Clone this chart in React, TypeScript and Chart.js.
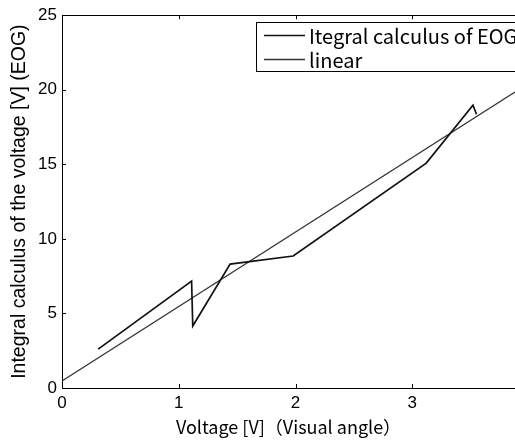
import React, { useEffect, useRef } from "react";
import { Chart, registerables } from "chart.js";

Chart.register(...registerables);

const eogX = [0.31, 1.11, 1.12, 1.44, 1.98, 3.12, 3.52, 3.55];
const eogY = [2.61, 7.17, 4.16, 8.31, 8.85, 15.08, 18.97, 18.36];
const linearX = [0, 3.88];
const linearY = [0.47, 19.85];
const xTicks = [0, 1, 2, 3];
const yTicks = [0, 5, 10, 15, 20, 25];
const seriesLabels = ["Itegral calculus of EOG", "linear"];
const xTitle = "Voltage [V]（Visual angle）";
const yTitle = "Integral calculus of the voltage [V] (EOG)";

const SANS = 'Arial, "Liberation Sans", Helvetica, sans-serif';
const GOTHIC = '"Noto Sans CJK JP", sans-serif';

const frameAndLegend = {
  id: "frameAndLegend",
  afterDatasetsDraw(chart: any) {
    const ctx = chart.ctx;
    const { left, right, top, bottom } = chart.chartArea;
    const xs = chart.scales.x;
    const ys = chart.scales.y;
    ctx.save();
    ctx.strokeStyle = "#000";
    ctx.lineWidth = 1;
    ctx.beginPath();
    ctx.moveTo(left, Math.round(top) + 0.5);
    ctx.lineTo(right, Math.round(top) + 0.5);
    ctx.stroke();
    ctx.beginPath();
    for (const v of xTicks) {
      const px = Math.round(xs.getPixelForValue(v)) + 0.5;
      ctx.moveTo(px, bottom);
      ctx.lineTo(px, bottom - 4);
      ctx.moveTo(px, top);
      ctx.lineTo(px, top + 4);
    }
    for (const v of yTicks) {
      const py = Math.round(ys.getPixelForValue(v)) + 0.5;
      ctx.moveTo(left, py);
      ctx.lineTo(left + 4, py);
    }
    ctx.stroke();
    ctx.fillStyle = "#fff";
    ctx.fillRect(256.5, 22.5, 270, 49);
    ctx.strokeRect(256.5, 22.5, 270, 49);
    const ds = chart.data.datasets;
    const rows = [35, 59];
    ctx.font = "20px " + GOTHIC;
    ctx.textBaseline = "middle";
    ctx.textAlign = "left";
    ds.forEach((d: any, i: number) => {
      ctx.beginPath();
      ctx.strokeStyle = d.borderColor;
      ctx.lineWidth = d.borderWidth;
      ctx.moveTo(264, rows[i] + 0.5);
      ctx.lineTo(305, rows[i] + 0.5);
      ctx.stroke();
      ctx.fillStyle = "#000";
      ctx.fillText(d.label, 309, rows[i] + 1);
    });
    ctx.restore();
  },
};

export default function App() {
  const ref = useRef<HTMLCanvasElement>(null);
  useEffect(() => {
    document.body.style.margin = "0";
    const eogData = eogX.map((x, i) => ({ x, y: eogY[i] }));
    const linData = linearX.map((x, i) => ({ x, y: linearY[i] }));
    const chart = new Chart(ref.current as HTMLCanvasElement, {
      type: "scatter",
      data: {
        datasets: [
          {
            label: seriesLabels[0],
            data: eogData,
            showLine: true,
            borderColor: "#111",
            borderWidth: 1.7,
            pointRadius: 0,
            fill: false,
          },
          {
            label: seriesLabels[1],
            data: linData,
            showLine: true,
            borderColor: "#333",
            borderWidth: 1.3,
            pointRadius: 0,
            fill: false,
          },
        ],
      },
      options: {
        animation: false,
        responsive: false,
        layout: { padding: { top: 15, right: 0, left: 0, bottom: 0 } },
        plugins: { legend: { display: false }, tooltip: { enabled: false } },
        scales: {
          x: {
            type: "linear",
            min: 0,
            max: 3.88,
            afterBuildTicks: (s: any) => {
              s.ticks = xTicks.map((v) => ({ value: v }));
            },
            afterFit: (s: any) => {
              s.height = 52;
            },
            grid: { display: false, drawTicks: false },
            border: { display: true, color: "#000", width: 1 },
            ticks: {
              color: "#000",
              padding: 5,
              font: { family: SANS, size: 17 },
              maxRotation: 0,
            },
            title: {
              display: true,
              text: xTitle,
              color: "#000",
              font: { family: GOTHIC, size: 18 },
              padding: { top: 0, bottom: 2 },
            },
          },
          y: {
            type: "linear",
            min: 0,
            max: 25,
            afterBuildTicks: (s: any) => {
              s.ticks = yTicks.map((v) => ({ value: v }));
            },
            afterFit: (s: any) => {
              s.width = 62;
            },
            grid: { display: false, drawTicks: false },
            border: { display: true, color: "#000", width: 1 },
            ticks: {
              color: "#000",
              padding: 5,
              font: { family: SANS, size: 17 },
            },
            title: {
              display: true,
              text: yTitle,
              color: "#000",
              font: { family: SANS, size: 19.5 },
              padding: { top: 8, bottom: 0 },
            },
          },
        },
      },
      plugins: [frameAndLegend],
    });
    return () => chart.destroy();
  }, []);
  return (
    <div style={{ width: 515, height: 440 }}>
      <canvas ref={ref} width={515} height={440} />
    </div>
  );
}
